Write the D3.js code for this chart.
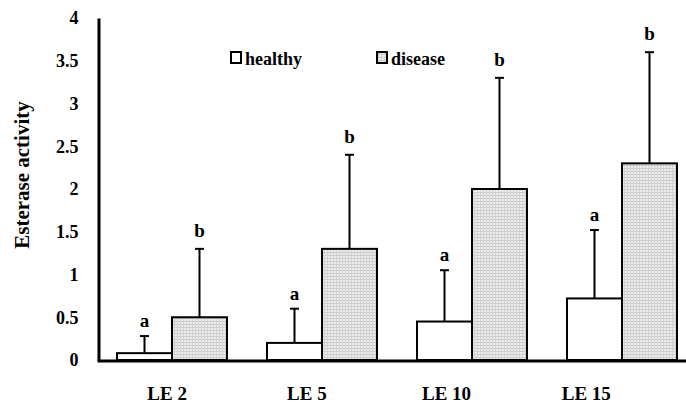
<!DOCTYPE html>
<html>
<head>
<meta charset="utf-8">
<script src="https://cdn.jsdelivr.net/npm/d3@7"></script>
<style>
  body { margin: 0; background: #fff; }
</style>
</head>
<body>
<div id="chart"></div>
<script>
// chart data
const categories = ["LE 2", "LE 5", "LE 10", "LE 15"];
const healthy = [0.08, 0.2, 0.45, 0.72];
const healthySD = [0.2, 0.4, 0.6, 0.8];
const disease = [0.5, 1.3, 2.0, 2.3];
const diseaseSD = [0.8, 1.1, 1.3, 1.3];
const healthyLetters = ["a", "a", "a", "a"];
const diseaseLetters = ["b", "b", "b", "b"];
const yTicks = [0, 0.5, 1, 1.5, 2, 2.5, 3, 3.5, 4];
const seriesNames = ["healthy", "disease"];

const W = 686, H = 405;
const FONT = "'Liberation Serif', 'Times New Roman', Times, serif";

let svg = d3.select("#chart").append("svg")
    .attr("width", W)
    .attr("height", H)
    .attr("font-family", FONT)
    .attr("font-weight", "bold");

// fine grey texture for the disease bars
let pat = svg.append("defs").append("pattern")
    .attr("id", "dots")
    .attr("width", 3).attr("height", 3)
    .attr("patternUnits", "userSpaceOnUse");
pat.append("rect").attr("width", 3).attr("height", 3).attr("fill", "#ededed");
pat.append("rect").attr("width", 3).attr("height", 1).attr("fill", "#c9c9c9");
pat.append("rect").attr("width", 1).attr("height", 3).attr("fill", "#d2d2d2");

let y = d3.scaleLinear()
    .domain([0, 4])
    .range([360, 18]);

// group positions of the bar pairs
let x = d3.scaleBand()
    .domain(categories)
    .range([97, 697])
    .paddingInner(40 / 150)
    .paddingOuter(20 / 150);
let x1 = d3.scaleBand()
    .domain(seriesNames)
    .range([0, x.bandwidth()]);

// category labels sit a bit left of the bars, as in the original
let xLab = d3.scalePoint()
    .domain(categories)
    .range([97, 686])
    .padding(0.608)
    .align(0.41);

let rows = categories.map((c, i) => ([
    { cat: c, key: "healthy", v: healthy[i], sd: healthySD[i], letter: healthyLetters[i] },
    { cat: c, key: "disease", v: disease[i], sd: diseaseSD[i], letter: diseaseLetters[i] }
])).flat();

let bars = svg.append("g");
bars.selectAll("rect")
    .data(rows)
    .enter()
    .append("rect")
    .attr("x", d => x(d.cat) + x1(d.key))
    .attr("y", d => y(d.v))
    .attr("width", x1.bandwidth())
    .attr("height", d => y(0) - y(d.v))
    .attr("fill", d => d.key === "healthy" ? "#fff" : "url(#dots)")
    .attr("stroke", "#000")
    .attr("stroke-width", 2);

// upper error bars
let err = svg.append("g").attr("stroke", "#000").attr("stroke-width", 2);
let cx = d => x(d.cat) + x1(d.key) + x1.bandwidth() / 2;
err.selectAll("line.v")
    .data(rows)
    .enter()
    .append("line")
    .attr("class", "v")
    .attr("x1", cx).attr("x2", cx)
    .attr("y1", d => y(d.v))
    .attr("y2", d => y(d.v + d.sd));
err.selectAll("line.cap")
    .data(rows)
    .enter()
    .append("line")
    .attr("class", "cap")
    .attr("x1", d => cx(d) - 4.5).attr("x2", d => cx(d) + 4.5)
    .attr("y1", d => y(d.v + d.sd))
    .attr("y2", d => y(d.v + d.sd));

svg.append("g").selectAll("text")
    .data(rows)
    .enter()
    .append("text")
    .attr("x", cx)
    .attr("y", d => y(d.v + d.sd) - (d.letter === "b" ? 12 : 9))
    .attr("text-anchor", "middle")
    .attr("font-size", 19)
    .text(d => d.letter);

// axes
let yAxis = svg.append("g")
    .attr("transform", "translate(98.5,0)")
    .call(d3.axisLeft(y).tickValues(yTicks).tickSize(0).tickPadding(20).tickFormat(d => String(d)))
    .attr("font-family", FONT)
    .attr("font-size", 18);
yAxis.select(".domain").attr("stroke-width", 3);
yAxis.selectAll("text").attr("fill", "#000");

let xAxis = svg.append("g")
    .attr("transform", "translate(0,360.5)")
    .call(d3.axisBottom(xLab).tickSize(0).tickSizeOuter(0).tickPadding(26))
    .attr("font-family", FONT)
    .attr("font-size", 19);
xAxis.select(".domain").attr("stroke-width", 3);
xAxis.selectAll("text").attr("fill", "#000");

svg.append("text")
    .attr("transform", "translate(29,175) rotate(-90)")
    .attr("text-anchor", "middle")
    .attr("font-size", 21)
    .text("Esterase activity");

// legend
let legend = svg.append("g");
let legX = [231, 377];
seriesNames.forEach((s, i) => {
    legend.append("rect")
        .attr("x", legX[i]).attr("y", 52)
        .attr("width", 10).attr("height", 11)
        .attr("fill", s === "healthy" ? "#fff" : "url(#dots)")
        .attr("stroke", "#000").attr("stroke-width", 2);
    legend.append("text")
        .attr("x", legX[i] + 14).attr("y", 65)
        .attr("font-size", 18)
        .text(s);
});
</script>
</body>
</html>
